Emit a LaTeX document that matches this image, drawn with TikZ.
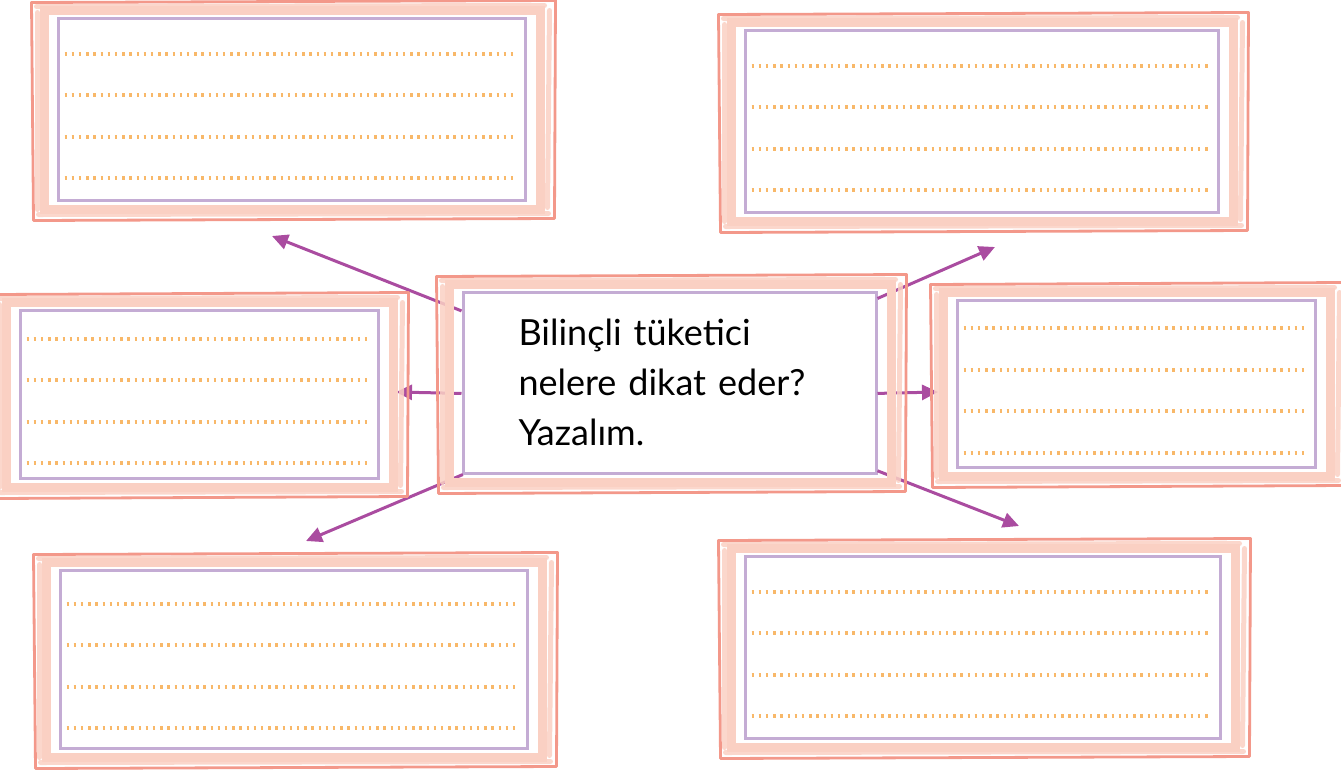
\documentclass[tikz,border=0pt]{standalone}
\usepackage{fontspec}
\setmainfont{Lato}
\usetikzlibrary{arrows.meta,calc}
\definecolor{framepink}{RGB}{243,152,138}
\definecolor{framesoft}{RGB}{250,208,195}
\definecolor{boxpurple}{RGB}{196,172,212}
\definecolor{dotorange}{RGB}{248,184,105}
\definecolor{arrowplum}{RGB}{170,76,160}

\begin{document}
\begin{tikzpicture}[x=0.5pt,y=-0.5pt,
    notebox/.style={draw=boxpurple, line width=1.5pt, fill=white, inner sep=0pt},
    questionbox/.style={notebox, text width=151pt, align=left, font=\fontsize{18}{25}\selectfont},
    outerline/.style={framepink, line width=1.4pt, line join=round},
    softline/.style={framesoft, line width=4.5pt, line cap=round},
    dotline/.style={dotorange, line width=2pt, dash pattern=on 1.2pt off 2.4pt},
    arrow/.style={-{Triangle[length=8pt,width=7.5pt]}, arrowplum, line width=1.5pt}
  ]
  \useasboundingbox (0,0) rectangle (1341,773);
  % answer boxes
  \node[notebox, minimum width=233.5pt, minimum height=91pt] (tl) at (291.5,109) {};
  \node[notebox, minimum width=236.5pt, minimum height=91pt] (tr) at (981.5,121) {};
  \node[notebox, minimum width=179pt, minimum height=84pt] (ml) at (199,394) {};
  \node[notebox, minimum width=179pt, minimum height=83.5pt] (mr) at (1136,383.5) {};
  \node[notebox, minimum width=233.5pt, minimum height=89pt] (bl) at (293.5,659) {};
  \node[notebox, minimum width=237.5pt, minimum height=91pt] (br) at (982.5,647) {};
  % question
  \node[questionbox, minimum width=206.5pt, minimum height=90.5pt] (center) at (669.5,382.5)
    {Bilinçli tüketici\\ nelere dikat eder?\\ Yazalım.};
  % arrow ends
  \coordinate (tl-tip) at (272,236);
  \coordinate (tr-tip) at (995,247);
  \coordinate (ml-tip) at (396,392);
  \coordinate (mr-tip) at (938,392);
  \coordinate (bl-tip) at (306,541);
  \coordinate (br-tip) at (1019,526);
  \draw[arrow] (center.161) -- (tl-tip);
  \draw[arrow] (center.22) -- (tr-tip);
  \draw[arrow] (center.183) -- (ml-tip);
  \draw[arrow] (center.357) -- (mr-tip);
  \draw[arrow] (center.204) -- (bl-tip);
  \draw[arrow] (center.337) -- (br-tip);
  % sketchy frames
  \foreach \b in {tl,tr,ml,mr,bl,br,center} {
    \draw[softline] ($(\b.north west)+(-12,-6)$) rectangle ($(\b.south east)+(14,8)$);
    \draw[softline, line width=2.5pt, opacity=0.85] ($(\b.north west)+(-20,-10)$) -- ($(\b.north east)+(18,-11)$)
      ($(\b.south west)+(-18,13)$) -- ($(\b.south east)+(22,12)$)
      ($(\b.north west)+(-19,-4)$) -- ($(\b.south west)+(-19,8)$)
      ($(\b.north east)+(23,-6)$) -- ($(\b.south east)+(21,6)$);
    \draw[outerline] ($(\b.north west)+(-25,-14)$) -- ($(\b.north east)+(29,-16)$)
      -- ($(\b.south east)+(28,17)$) -- ($(\b.south west)+(-23,19)$) -- cycle;
  }
  % writing lines
  \foreach \b in {tl,tr,ml,mr,bl,br}
    \foreach \k in {-1.5,-0.5,0.5,1.5}
      \draw[dotline] ($(\b.west)+(8,7+\k*41.5)$) -- ($(\b.east)+(-12,7+\k*41.5)$);
\end{tikzpicture}
\end{document}
